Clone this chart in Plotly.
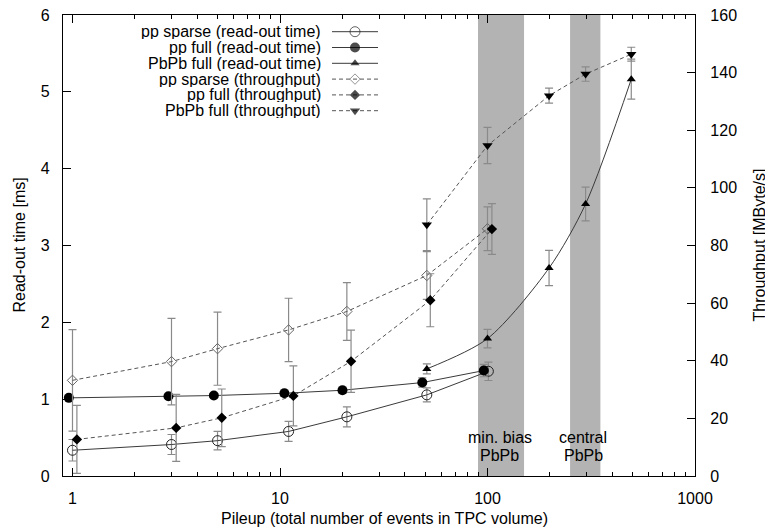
import math
import plotly.graph_objects as go

# ---------------- data ----------------
pp_sparse_rt_x = [1.0, 3.0, 5.0, 11.0, 21.0, 51.0, 101.0]
pp_sparse_rt = [0.335, 0.41, 0.46, 0.58, 0.77, 1.056, 1.363]
pp_sparse_rt_err = [0.14, 0.13, 0.12, 0.13, 0.13, 0.09, 0.12]

pp_full_rt_x = [0.96, 2.9, 4.8, 10.5, 20.0, 48.5, 96.0]
pp_full_rt = [1.017, 1.038, 1.047, 1.077, 1.116, 1.216, 1.372]
pp_full_rt_err = [0.02, 0.02, 0.02, 0.04, 0.04, 0.06, 0.08]

pbpb_full_rt_x = [51.0, 100.0, 198.0, 297.0, 493.0]
pbpb_full_rt = [1.394, 1.788, 2.707, 3.54, 5.165]
pbpb_full_rt_err = [0.065, 0.12, 0.23, 0.22, 0.26]

pp_sparse_tp_x = [1.0, 3.0, 5.0, 11.0, 21.0, 51.0, 100.0]
pp_sparse_tp = [33.2, 39.7, 44.2, 50.7, 57.1, 69.6, 85.8]
pp_sparse_tp_err = [17.6, 15.0, 12.7, 11.0, 10.0, 8.3, 7.6]

pp_full_tp_x = [1.05, 3.16, 5.24, 11.6, 22.0, 53.0, 105.0]
pp_full_tp = [12.7, 16.7, 20.2, 27.8, 39.8, 61.0, 85.7]
pp_full_tp_err = [11.8, 11.6, 10.0, 10.4, 10.8, 9.2, 8.8]

pbpb_full_tp_x = [51.0, 100.0, 198.0, 297.0, 493.0]
pbpb_full_tp = [87.2, 114.7, 132.0, 139.5, 146.4]
pbpb_full_tp_err = [9.0, 6.3, 2.6, 2.5, 2.4]

bands = [(90, 150, ["min. bias", "PbPb"], 114.6), (250, 350, ["central", "PbPb"], 290)]

x_ticks = [1, 10, 100, 1000]
x_minor = [m * d for d in (1, 10, 100) for m in range(2, 10)]

names = [
    "pp sparse (read-out time)",
    "pp full (read-out time)",
    "PbPb full (read-out time)",
    "pp sparse (throughput)",
    "pp full (throughput)",
    "PbPb full (throughput)",
]

# ---------------- style ----------------
FONT = "Liberation Sans, Arial, Helvetica, sans-serif"
FS = 16
SOLID = "#3a3a3a"
DASHC = "#555555"
DASH = "4px,3px"
ERRC = "#8a8a8a"

styles = [
    dict(symbol="circle-open", size=10, color="#222222", lw=1.0, line=SOLID, dash="solid"),
    dict(symbol="circle", size=10, color="#000000", lw=0, line=SOLID, dash="solid"),
    dict(symbol="triangle-up", size=8, color="#000000", lw=0, line=SOLID, dash="solid"),
    dict(symbol="diamond-open", size=8, color="#666666", lw=1.0, line=DASHC, dash=DASH),
    dict(symbol="diamond", size=8, color="#000000", lw=0, line=DASHC, dash=DASH),
    dict(symbol="triangle-down", size=9, color="#000000", lw=0, line=DASHC, dash=DASH),
]

series = [
    (pp_sparse_rt_x, pp_sparse_rt, pp_sparse_rt_err, "y", "linear"),
    (pp_full_rt_x, pp_full_rt, pp_full_rt_err, "y", "linear"),
    (pbpb_full_rt_x, pbpb_full_rt, pbpb_full_rt_err, "y", "spline"),
    (pp_sparse_tp_x, pp_sparse_tp, pp_sparse_tp_err, "y2", "linear"),
    (pp_full_tp_x, pp_full_tp, pp_full_tp_err, "y2", "linear"),
    (pbpb_full_tp_x, pbpb_full_tp, pbpb_full_tp_err, "y2", "linear"),
]

# page geometry (the html body adds an 8px margin; figure is sized to fit the window)
OFF = 8
PAGE_W, PAGE_H = 773, 527
W, H = PAGE_W - OFF, PAGE_H - OFF
PX0, PX1, PY0, PY1 = 63, 695, 15, 476   # plot area in page pixels
L, T = PX0 - OFF, PY0 - OFF
R, B = W - (PX1 - OFF), H - (PY1 - OFF)

def px(xp):
    return (xp - PX0) / (PX1 - PX0)

def py(yp):
    return (PY1 - yp) / (PY1 - PY0)

fig = go.Figure()

# shaded bands
for x0, x1, _, _ in bands:
    fig.add_trace(go.Scatter(
        x=[x0, x1, x1, x0, x0], y=[0, 0, 6, 6, 0], mode="lines",
        fill="toself", fillcolor="#b3b3b3", line=dict(width=0),
        hoverinfo="skip", showlegend=False, yaxis="y"))

for (xs, ys, es, ax, shape), st, nm in zip(series, styles, names):
    fig.add_trace(go.Scatter(
        x=xs, y=ys, name=nm, yaxis=ax, mode="lines+markers",
        line=dict(color=st["line"], width=1, dash=st["dash"], shape=shape,
                  smoothing=0.8),
        marker=dict(symbol=st["symbol"], size=st["size"], color=st["color"],
                    line=dict(width=st["lw"], color=st["color"])),
        error_y=dict(type="data", array=es, visible=True, color=ERRC,
                     thickness=1.2, width=4),
        showlegend=False))

# manual gnuplot-style legend (text left, sample right) on a pixel-coordinate overlay
row0, rowstep = 31.7, 15.8
annotations = []
for i, (nm, st) in enumerate(zip(names, styles)):
    yy = row0 + i * rowstep
    annotations.append(dict(
        xref="x3", yref="y3", x=323, y=yy, text=nm, showarrow=False,
        xanchor="right", yanchor="middle", height=15,
        font=dict(family=FONT, size=FS, color="#000")))
    fig.add_trace(go.Scatter(
        x=[332, 355, 378], y=[yy, yy, yy], xaxis="x3", yaxis="y3",
        mode="lines+markers",
        line=dict(color=st["line"], width=1, dash=st["dash"]),
        marker=dict(symbol=st["symbol"], size=[0, st["size"], 0], color=st["color"],
                    line=dict(width=st["lw"], color=st["color"])),
        hoverinfo="skip", showlegend=False))

# band labels (two lines each, gnuplot-like tight spacing)
for x0, x1, lines, xc in bands:
    for txt, yv in zip(lines, (0.495, 0.273)):
        annotations.append(dict(
            xref="x", yref="y", x=math.log10(xc), y=yv, text=txt, showarrow=False,
            xanchor="center", yanchor="middle", height=15,
            font=dict(family=FONT, size=FS, color="#000")))

annotations += [
    dict(xref="paper", yref="paper", x=px(384), y=py(519),
         text="Pileup (total number of events in TPC volume)", showarrow=False,
         xanchor="center", yanchor="middle", font=dict(family=FONT, size=FS, color="#000")),
    dict(xref="paper", yref="paper", x=px(19), y=0.5, textangle=-90,
         text="Read-out time [ms]", showarrow=False,
         xanchor="center", yanchor="middle", font=dict(family=FONT, size=FS, color="#000")),
    dict(xref="paper", yref="paper", x=px(759), y=0.5, textangle=-90,
         text="Throughput [MByte/s]", showarrow=False,
         xanchor="center", yanchor="middle", font=dict(family=FONT, size=FS, color="#000")),
]

fig.update_layout(
    width=W, height=H,
    margin=dict(l=L, r=R, t=T, b=B, pad=0, autoexpand=False),
    paper_bgcolor="white", plot_bgcolor="white",
    font=dict(family=FONT, size=FS, color="#000"),
    showlegend=False,
    xaxis=dict(
        type="log", range=[math.log10(0.9), 3.0], automargin=False,
        tickmode="array", tickvals=x_ticks, ticktext=[str(v) for v in x_ticks],
        ticks="inside", ticklen=8, tickcolor="#000", tickwidth=1,
        minor=dict(tickmode="array", tickvals=x_minor, ticks="inside", ticklen=4,
                   tickcolor="#000", tickwidth=1, showgrid=False),
        showline=True, linecolor="#000", linewidth=1.3, mirror="ticks",
        showgrid=False, zeroline=False, ticklabelstandoff=8,
        ticklabeloverflow="allow",
        tickfont=dict(family=FONT, size=FS, color="#000")),
    yaxis=dict(
        range=[0, 6], dtick=1, tick0=0, automargin=False,
        ticks="inside", ticklen=8, tickcolor="#000",
        showline=True, linecolor="#000", linewidth=1.3,
        showgrid=False, zeroline=False, ticklabelstandoff=9,
        ticklabeloverflow="allow",
        tickfont=dict(family=FONT, size=FS, color="#000")),
    yaxis2=dict(
        range=[0, 160], dtick=20, tick0=0, overlaying="y", side="right",
        automargin=False,
        ticks="inside", ticklen=8, tickcolor="#000",
        showline=True, linecolor="#000", linewidth=1.3,
        showgrid=False, zeroline=False, ticklabelstandoff=11,
        ticklabeloverflow="allow",
        tickfont=dict(family=FONT, size=FS, color="#000")),
    xaxis3=dict(range=[PX0, PX1], domain=[0, 1], visible=False, overlaying="x",
                fixedrange=True, automargin=False),
    yaxis3=dict(range=[PY1, PY0], domain=[0, 1], visible=False, overlaying="y",
                anchor="x3", fixedrange=True, automargin=False),
    annotations=annotations,
)
for tr in fig.data:
    if tr.xaxis == "x3":
        tr.update(yaxis="y3")

fig.write_html("out.html")
